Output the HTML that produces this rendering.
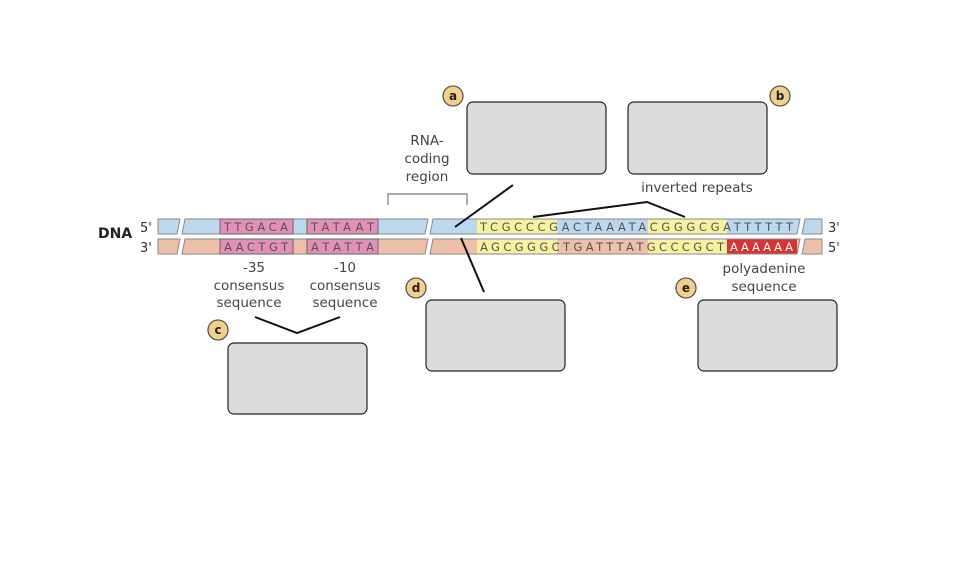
<!DOCTYPE html>
<html><head><style>
html,body{margin:0;padding:0;background:#fff;}
svg{display:block;font-family:"DejaVu Sans","Liberation Sans",sans-serif;}
.seq{font-family:"DejaVu Sans",sans-serif;font-size:11.5px;fill:#555;}
.lbl{font-size:13.5px;fill:#444;text-anchor:middle;}
.box{fill:#dcdcde;stroke:#222;stroke-width:1.2;}
.cir{fill:#f2cf8a;stroke:#555;stroke-width:1.3;}
.cl{font-size:12px;font-weight:bold;fill:#222;text-anchor:middle;}
</style></head><body>
<svg width="980" height="574" viewBox="0 0 980 574">
<g stroke="#8a8a8a" stroke-width="1">
<polygon points="158,219 180,219 177,234 158,234" fill="#bcd8ef"/>
<polygon points="185,219 428,219 425,234 182,234" fill="#bcd8ef"/>
<polygon points="433,219 800,219 797,234 430,234" fill="#bcd8ef"/>
<polygon points="805,219 822,219 822,234 802,234" fill="#bcd8ef"/>
<polygon points="158,239 180,239 177,254 158,254" fill="#eec0aa"/>
<polygon points="185,239 428,239 425,254 182,254" fill="#eec0aa"/>
<polygon points="433,239 800,239 797,254 430,254" fill="#eec0aa"/>
<polygon points="805,239 822,239 822,254 802,254" fill="#eec0aa"/>
</g>
<g stroke="#666" stroke-width="1">
<rect x="220" y="219" width="73" height="15" fill="#e290b8"/>
<rect x="307" y="219" width="71" height="15" fill="#e290b8"/>
<rect x="220" y="239" width="73" height="15" fill="#e290b8"/>
<rect x="307" y="239" width="71" height="15" fill="#e290b8"/>
</g>
<rect x="477" y="219.5" width="80" height="14" fill="#f8f1a0"/>
<rect x="648" y="219.5" width="79" height="14" fill="#f8f1a0"/>
<rect x="477" y="239.5" width="80" height="14" fill="#f8f1a0"/>
<rect x="648" y="239.5" width="79" height="14" fill="#f8f1a0"/>
<rect x="727" y="239.5" width="70" height="14" fill="#d63535"/>
<text class="seq" x="224" y="231" textLength="64" lengthAdjust="spacing">TTGACA</text>
<text class="seq" x="311" y="231" textLength="63" lengthAdjust="spacing">TATAAT</text>
<text class="seq" x="224" y="251" textLength="64" lengthAdjust="spacing">AACTGT</text>
<text class="seq" x="311" y="251" textLength="63" lengthAdjust="spacing">ATATTA</text>
<text class="seq" x="480" y="231" textLength="313" lengthAdjust="spacing">TCGCCCGACTAAATACGGGCGATTTTTT</text>
<text class="seq" x="480" y="251" textLength="244" lengthAdjust="spacing">AGCGGGCTGATTTATGCCCGCT</text>
<text class="seq" x="730" y="251" textLength="63" lengthAdjust="spacing" style="fill:#fff">AAAAAA</text>
<text x="98" y="238" style="font-size:14px;font-weight:bold;fill:#222">DNA</text>
<text x="140" y="232" style="font-size:13px;fill:#333">5'</text>
<text x="140" y="252" style="font-size:13px;fill:#333">3'</text>
<text x="828" y="232" style="font-size:13px;fill:#333">3'</text>
<text x="828" y="252" style="font-size:13px;fill:#333">5'</text>
<text class="lbl" x="427" y="145">RNA-</text>
<text class="lbl" x="427" y="163">coding</text>
<text class="lbl" x="427" y="181">region</text>
<polyline points="388,205 388,194 467,194 467,205" fill="none" stroke="#777" stroke-width="1.2"/>
<text class="lbl" x="697" y="192">inverted repeats</text>
<text class="lbl" x="254" y="272">-35</text>
<text class="lbl" x="249" y="290">consensus</text>
<text class="lbl" x="249" y="307">sequence</text>
<text class="lbl" x="345" y="272">-10</text>
<text class="lbl" x="345" y="290">consensus</text>
<text class="lbl" x="345" y="307">sequence</text>
<text class="lbl" x="764" y="273">polyadenine</text>
<text class="lbl" x="764" y="291">sequence</text>
<g stroke="#111" stroke-width="2" fill="none">
<line x1="513" y1="185" x2="455" y2="227"/>
<line x1="461" y1="238" x2="484" y2="292"/>
<polyline points="533,217 647,202 685,217"/>
<polyline points="255,317 297,333 340,317"/>
</g>
<rect class="box" x="467" y="102" width="139" height="72" rx="6"/>
<rect class="box" x="628" y="102" width="139" height="72" rx="6"/>
<rect class="box" x="228" y="343" width="139" height="71" rx="6"/>
<rect class="box" x="426" y="300" width="139" height="71" rx="6"/>
<rect class="box" x="698" y="300" width="139" height="71" rx="6"/>
<circle class="cir" cx="453" cy="96" r="10"/><text class="cl" x="453" y="100">a</text>
<circle class="cir" cx="780" cy="96" r="10"/><text class="cl" x="780" y="100">b</text>
<circle class="cir" cx="218" cy="330" r="10"/><text class="cl" x="218" y="334">c</text>
<circle class="cir" cx="416" cy="288" r="10"/><text class="cl" x="416" y="292">d</text>
<circle class="cir" cx="686" cy="288" r="10"/><text class="cl" x="686" y="292">e</text>
</svg>
</body></html>
